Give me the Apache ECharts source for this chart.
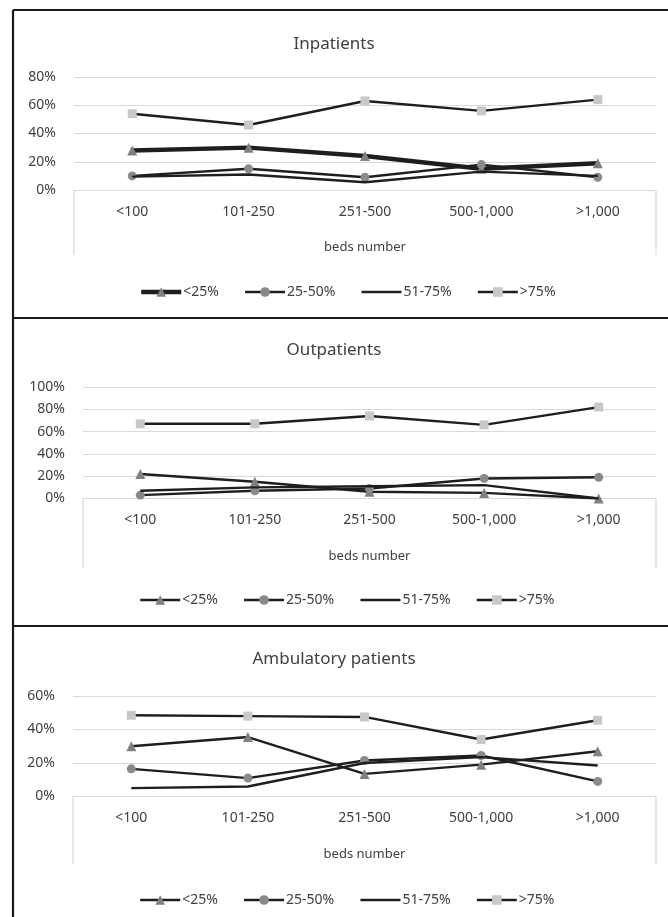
<!DOCTYPE html>
<html>
<head>
<meta charset="utf-8">
<script src="https://cdn.jsdelivr.net/npm/echarts@6/dist/echarts.min.js"></script>
<style>
html,body{margin:0;padding:0;background:#fff;}
#chart{width:668px;height:917px;}
</style>
</head>
<body>
<div id="chart"></div>
<script>
const categories = ['<100', '101-250', '251-500', '500-1,000', '>1,000'];
const seriesNames = ['<25%', '25-50%', '51-75%', '>75%'];
const panelTitles = ['Inpatients', 'Outpatients', 'Ambulatory patients'];
const axisName = 'beds number';
const yMax = [80, 100, 60];

const inpatientsLt25 = [28, 30, 24, 15, 19];
const inpatients25to50 = [10, 15, 9, 18, 9];
const inpatients51to75 = [9.5, 11, 5.5, 13, 10];
const inpatientsGt75 = [54, 46, 63, 56, 64];

const outpatientsLt25 = [22, 15, 6, 5, 0];
const outpatients25to50 = [3, 7, 9, 18, 19];
const outpatients51to75 = [7, 10, 11, 12, 0];
const outpatientsGt75 = [67, 67, 74, 66, 82];

const ambulatoryLt25 = [30, 35.5, 13.5, 19, 27];
const ambulatory25to50 = [16.5, 11, 21.5, 24.5, 9];
const ambulatory51to75 = [5, 6, 20, 23.5, 18.5];
const ambulatoryGt75 = [48.5, 48, 47.5, 34, 45.5];

const panelData = [
  [inpatientsLt25, inpatients25to50, inpatients51to75, inpatientsGt75],
  [outpatientsLt25, outpatients25to50, outpatients51to75, outpatientsGt75],
  [ambulatoryLt25, ambulatory25to50, ambulatory51to75, ambulatoryGt75]
];

const FONT = '"Noto Sans", sans-serif';
const TXT = '#404040';
const GRIDC = '#d9d9d9';
const LINEC = '#1e1e1e';
const symbols = ['triangle', 'circle', 'none', 'rect'];
const symColors = ['#808080', '#8a8a8a', LINEC, '#c8c8c8'];
const symSizes = [10, 9, 0, 9];

// layout (pixels)
const grids = [
  {left: 74, right: 12, top: 77, height: 113},
  {left: 83, right: 12, top: 387, height: 111.5},
  {left: 73, right: 12, top: 696, height: 100.5}
];
const titleTops = [31, 337, 646];
const legendTops = [280, 588, 888];
const boxDepth = [65, 70, 68];

const option = {
  animation: false,
  backgroundColor: '#fff',
  title: panelTitles.map((t, i) => ({
    text: t, left: 'center', top: titleTops[i],
    textStyle: {fontFamily: FONT, fontSize: 17, fontWeight: 'normal', color: TXT}
  })),
  legend: [0, 1, 2].map(i => ({
    top: legendTops[i], left: 134, itemWidth: 40, itemHeight: 12, itemGap: 25,
    textStyle: {fontFamily: FONT, fontSize: 14, color: TXT, padding: [0, 0, 0, -3]},
    data: seriesNames.map((n, k) => ({
      name: n,
      lineStyle: {width: (i === 0 && k === 0) ? 4.5 : 2.4, color: LINEC},
      itemStyle: symbols[k] === 'none' ? {color: 'rgba(0,0,0,0)', opacity: 0} : {color: symColors[k]}
    }))
  })),
  grid: grids.map(g => Object.assign({containLabel: false}, g)),
  xAxis: [0, 1, 2].map(i => ({
    type: 'category', gridIndex: i, data: categories, boundaryGap: true,
    axisLine: {show: true, lineStyle: {color: GRIDC, width: 1.2}},
    axisTick: {show: false},
    axisLabel: {margin: 15, fontFamily: FONT, fontSize: 14, color: TXT},
    name: axisName, nameLocation: 'middle', nameGap: 51,
    nameTextStyle: {fontFamily: FONT, fontSize: 13, color: TXT}
  })),
  yAxis: [0, 1, 2].map(i => ({
    type: 'value', gridIndex: i, min: 0, max: yMax[i], interval: 20,
    axisLine: {show: false}, axisTick: {show: false},
    splitLine: {lineStyle: {color: GRIDC, width: 1.2}},
    axisLabel: {margin: 18, fontFamily: FONT, fontSize: 14, color: TXT, formatter: '{value}%'}
  })),
  series: [],
  graphic: []
};

panelData.forEach((arrs, p) => {
  arrs.forEach((vals, k) => {
    option.series.push({
      type: 'line', name: seriesNames[k], xAxisIndex: p, yAxisIndex: p,
      data: vals,
      symbol: symbols[k], symbolSize: symSizes[k], showSymbol: symbols[k] !== 'none',
      lineStyle: {color: LINEC, width: (p === 0 && k === 0) ? 4.5 : 2.4},
      itemStyle: {color: symColors[k], borderWidth: 0},
      z: 2 + k
    });
  });
});

// decorations: outer frame, panel dividers, grey category box sides
const W = 668;
const frame = [
  [13, 10, 13, 917], [13, 10, W, 10], [13, 318, W, 318], [13, 626, W, 626]
];
frame.forEach(s => option.graphic.push({
  type: 'line', silent: true,
  shape: {x1: s[0], y1: s[1], x2: s[2], y2: s[3]},
  style: {stroke: '#1a1a1a', lineWidth: 2.2}
}));
grids.forEach((g, i) => {
  const yb = g.top + g.height;
  [g.left, W - g.right].forEach(x => option.graphic.push({
    type: 'line', silent: true,
    shape: {x1: x, y1: yb, x2: x, y2: yb + boxDepth[i]},
    style: {stroke: GRIDC, lineWidth: 1.2}
  }));
});

const chart = echarts.init(document.getElementById('chart'), null, {renderer: 'canvas'});
chart.setOption(option);
</script>
</body>
</html>
